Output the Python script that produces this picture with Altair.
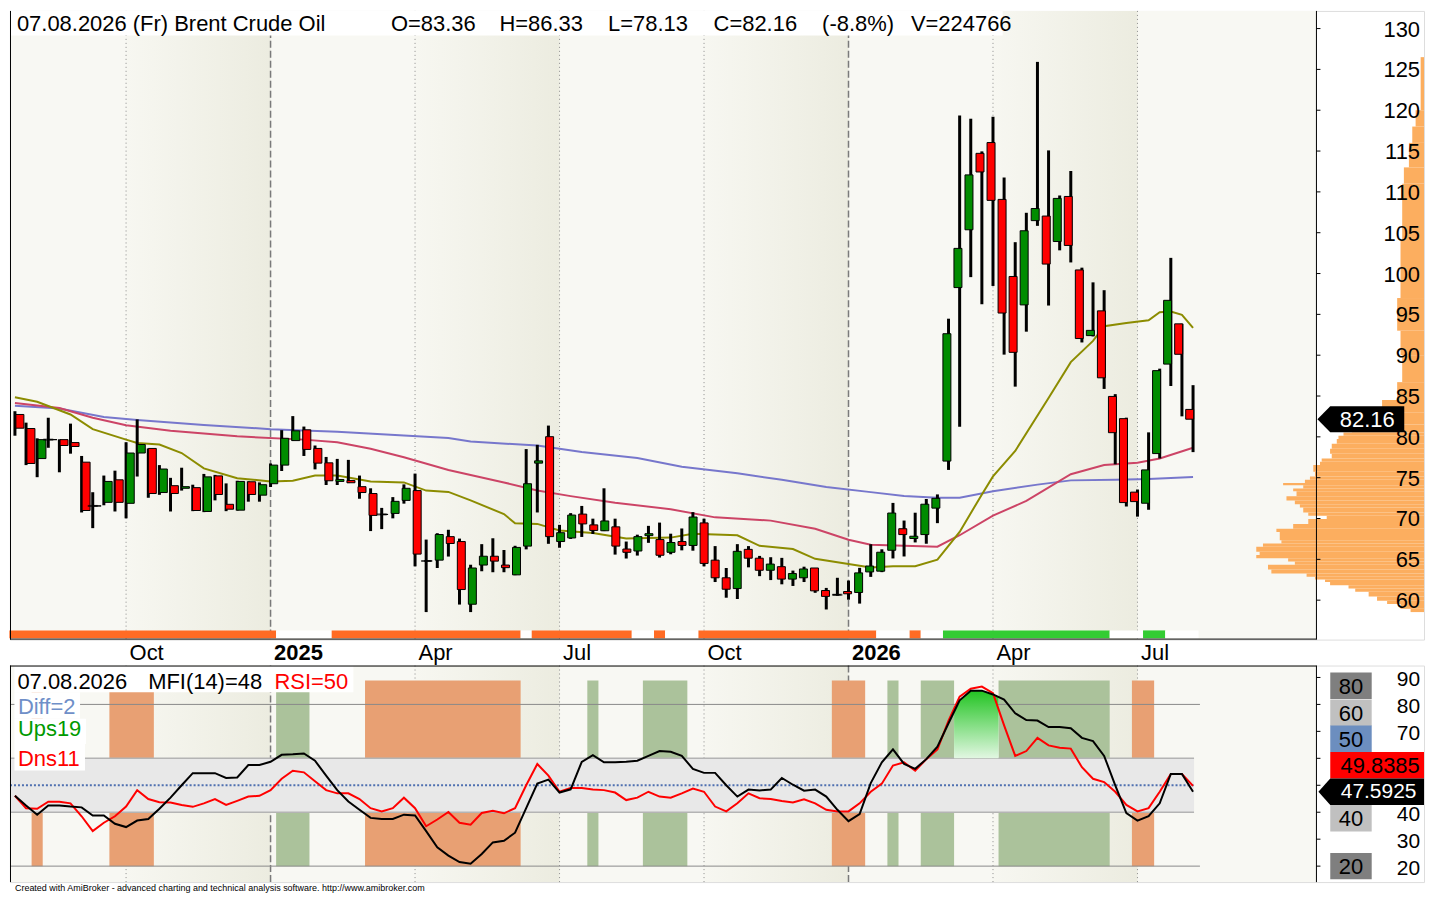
import json
import altair as alt
import pandas as pd

FONT = "Liberation Sans"

# ---------------- data (weekly bars, last = 07.08.2026) ----------------
bar_open = [82.74, 81.02, 77.34, 79.66, 79.66, 79.30, 76.90, 71.54, 71.98, 74.74,
            71.86, 78.02, 78.58, 73.18, 74.02, 73.70, 73.78, 70.86, 75.22, 71.74,
            71.02, 74.50, 72.86, 74.26, 76.54, 79.54, 80.86, 78.58, 76.82, 74.54,
            74.66, 73.90, 73.06, 70.50, 70.62, 72.22, 73.42, 64.80, 64.90, 67.78,
            67.18, 59.50, 64.30, 65.38, 64.30, 63.10, 66.62, 76.78, 80.02, 67.18,
            67.62, 70.54, 69.22, 68.50, 68.98, 66.26, 66.02, 67.90, 67.42, 65.86,
            67.18, 66.70, 69.46, 64.90, 62.74, 61.42, 66.22, 65.14, 63.66, 64.10,
            62.58, 62.74, 63.94, 61.18, 60.66, 61.06, 60.94, 63.46, 63.55, 66.11,
            68.75, 67.55, 68.03, 71.27, 77.03, 98.28, 105.36, 114.72, 116.04, 109.08,
            99.64, 96.16, 106.48, 107.04, 103.92, 109.44, 100.44, 92.40, 95.43, 84.95,
            82.23, 73.23, 71.87, 77.95, 88.91, 93.84, 83.36]
bar_high = [83.14, 81.74, 79.82, 82.34, 79.70, 81.62, 77.66, 73.22, 75.26, 75.86,
            79.34, 82.14, 78.58, 76.54, 74.98, 76.22, 74.14, 75.46, 75.34, 74.30,
            74.62, 74.54, 74.42, 76.74, 80.82, 82.54, 81.26, 78.94, 77.54, 77.30,
            77.18, 75.26, 73.70, 71.30, 72.62, 74.18, 75.50, 67.42, 68.20, 68.62,
            67.54, 64.34, 66.86, 67.58, 66.14, 66.66, 78.50, 79.02, 81.38, 69.22,
            70.66, 71.54, 69.98, 73.70, 69.98, 67.18, 68.02, 69.10, 69.50, 68.14,
            68.78, 70.78, 69.98, 66.62, 63.94, 66.86, 66.62, 65.42, 65.26, 65.18,
            63.62, 64.10, 63.94, 61.50, 62.74, 62.40, 63.96, 66.85, 66.23, 71.91,
            69.75, 70.71, 72.39, 72.95, 94.47, 119.36, 118.96, 114.96, 119.20, 111.76,
            103.84, 107.44, 125.92, 115.08, 109.56, 112.56, 100.72, 98.92, 97.96, 85.23,
            82.35, 73.55, 80.55, 88.35, 101.92, 93.84, 86.33]
bar_low = [80.14, 76.54, 75.06, 78.66, 75.66, 77.94, 70.74, 68.82, 71.62, 70.86,
           70.02, 75.14, 72.54, 72.90, 70.86, 73.42, 70.90, 70.78, 72.22, 70.90,
           70.98, 72.06, 72.06, 73.86, 75.82, 79.54, 77.66, 76.02, 74.10, 74.10,
           74.34, 72.42, 68.46, 68.70, 70.02, 71.82, 64.14, 58.54, 63.94, 65.34,
           59.46, 58.54, 63.54, 63.42, 63.42, 63.06, 66.22, 70.74, 66.90, 66.42,
           67.50, 67.74, 68.10, 68.46, 65.58, 65.10, 65.46, 67.02, 65.22, 65.62,
           66.10, 66.06, 64.14, 62.22, 60.30, 60.14, 64.02, 62.94, 62.46, 61.94,
           61.74, 62.22, 60.90, 58.86, 60.54, 60.06, 59.58, 62.85, 63.43, 65.11,
           65.35, 67.07, 66.91, 69.43, 75.95, 81.23, 99.56, 96.24, 98.48, 90.07,
           86.15, 92.88, 105.84, 96.08, 102.84, 101.36, 91.56, 92.30, 85.87, 76.63,
           71.47, 70.23, 71.07, 77.35, 86.23, 82.51, 78.13]
bar_close = [81.06, 76.74, 79.66, 79.66, 78.94, 78.82, 70.98, 71.54, 74.54, 71.98,
             78.02, 79.06, 73.06, 76.06, 73.06, 73.90, 70.98, 75.10, 72.94, 71.14,
             74.54, 72.94, 74.14, 76.54, 79.82, 80.74, 78.46, 76.78, 74.62, 74.78,
             74.38, 73.18, 70.38, 70.50, 72.10, 73.70, 65.64, 64.80, 68.04, 66.94,
             61.30, 63.94, 65.38, 64.78, 63.98, 66.46, 74.26, 77.06, 67.78, 68.26,
             70.42, 69.34, 68.54, 69.70, 66.62, 65.86, 67.78, 68.14, 65.50, 67.06,
             66.70, 70.18, 64.50, 62.74, 61.34, 65.98, 65.14, 63.66, 64.42, 62.58,
             63.26, 63.82, 61.14, 60.46, 60.66, 60.78, 63.34, 64.18, 65.87, 70.67,
             68.03, 67.83, 71.75, 72.47, 92.63, 103.08, 112.08, 112.44, 108.96, 95.16,
             90.35, 105.24, 107.96, 101.16, 109.20, 103.44, 92.04, 93.04, 87.23, 80.51,
             71.95, 72.07, 75.95, 88.11, 96.72, 90.11, 82.16]

ma_short_idx = [0, 2, 5, 7, 10, 11, 13, 15, 17, 20, 23, 25, 27, 29, 32, 35, 37, 39, 41, 44,
                45, 47, 49, 52, 55, 59, 61, 65, 67, 70, 72, 75, 77, 79, 81, 83, 85, 87, 88, 90,
                93, 95, 97, 98, 100, 102, 103, 104, 105, 106]
ma_short_val = [84.86, 84.30, 82.74, 80.94, 79.66, 79.26, 79.06, 78.02, 76.14, 74.94,
                74.54, 74.62, 75.26, 75.26, 74.54, 74.42, 73.42, 73.26, 72.22, 70.54,
                69.42, 69.34, 68.54, 68.22, 67.54, 67.66, 68.14, 67.94, 66.66, 66.26,
                65.06, 64.42, 64.00, 64.15, 64.15, 64.95, 68.35, 72.95, 75.15, 78.27,
                84.75, 89.15, 91.75, 93.55, 93.95, 94.27, 95.27, 95.35, 94.95, 93.35]
ma_mid_idx = [0, 4, 7, 10, 14, 20, 26, 29, 32, 35, 39, 44, 47, 50, 54, 59, 63, 68, 72, 75,
              77, 83, 85, 88, 91, 95, 98, 101, 103, 106]
ma_mid_val = [84.14, 83.54, 82.34, 81.42, 80.74, 80.06, 79.66, 79.34, 78.54, 77.50,
              75.94, 74.42, 73.42, 72.74, 71.94, 71.14, 70.14, 69.74, 68.74, 67.40,
              66.80, 66.55, 67.95, 70.35, 72.15, 75.43, 76.55, 76.83, 77.35, 78.67]
ma_long_idx = [0, 4, 8, 11, 17, 23, 29, 35, 39, 41, 47, 51, 56, 60, 65, 69, 73, 77, 80, 83,
               85, 88, 92, 95, 99, 102, 106]
ma_long_val = [83.82, 83.46, 82.42, 82.06, 81.46, 80.94, 80.62, 80.18, 79.86, 79.42,
               78.94, 78.14, 77.42, 76.34, 75.54, 74.74, 73.86, 73.23, 72.75, 72.55,
               72.55, 73.35, 74.15, 74.67, 74.75, 74.83, 75.07]

mfi_vals = [46.1, 42.5, 39.1, 42.5, 42.5, 42.1, 41.8, 38.8, 38.8, 35.7,
            34.5, 36.9, 37.5, 41.3, 45.4, 50.0, 54.5, 54.5, 54.5, 52.7,
            52.9, 57.5, 57.5, 58.7, 61.3, 61.5, 61.8, 59.1, 53.6, 48.2,
            44.0, 40.9, 37.9, 37.5, 37.5, 39.1, 38.8, 33.0, 27.0, 23.9,
            21.5, 20.9, 24.5, 28.8, 29.4, 32.4, 41.5, 50.6, 52.1, 47.3,
            48.5, 58.7, 61.2, 58.5, 58.5, 58.7, 59.1, 60.9, 62.7, 62.4,
            60.9, 56.1, 54.6, 54.6, 50.0, 45.8, 48.4, 48.1, 48.4, 52.7,
            50.2, 48.0, 48.4, 45.8, 40.9, 36.7, 39.3, 50.8, 58.5, 63.3,
            57.9, 56.1, 59.7, 64.3, 73.0, 81.5, 85.1, 85.1, 83.7, 81.8,
            76.7, 74.2, 74.0, 71.6, 71.6, 71.2, 67.6, 66.4, 60.9, 50.0,
            39.7, 36.9, 38.5, 43.3, 54.2, 54.2, 47.6]
rsi_vals = [46.1, 41.5, 41.3, 43.9, 43.9, 43.3, 38.5, 33.0, 36.1, 38.5,
            42.1, 48.2, 44.9, 43.7, 43.6, 42.7, 42.0, 43.3, 44.9, 42.7,
            44.2, 45.8, 46.1, 48.2, 52.4, 55.4, 54.8, 51.5, 48.2, 47.0,
            47.0, 44.9, 41.5, 40.3, 41.5, 45.4, 41.5, 34.8, 37.3, 40.1,
            36.1, 35.4, 39.7, 40.5, 39.6, 41.5, 50.0, 57.9, 53.6, 47.6,
            49.0, 49.0, 48.4, 48.2, 47.3, 44.5, 45.4, 47.6, 45.8, 45.4,
            47.0, 48.8, 47.6, 42.1, 40.3, 43.3, 47.0, 45.2, 44.9, 44.2,
            43.6, 44.8, 43.3, 40.9, 40.3, 40.3, 43.3, 47.6, 50.6, 57.3,
            58.5, 55.4, 59.7, 63.3, 74.0, 82.9, 85.8, 86.6, 84.2, 72.2,
            60.9, 62.7, 67.6, 64.8, 63.9, 63.6, 56.7, 52.4, 51.2, 47.6,
            42.7, 40.3, 41.5, 47.6, 54.2, 54.2, 49.8]
mfi_last = "47.5925"
rsi_last = "49.8385"

glow_idx = [84.5, 85, 86, 87, 88, 88.5]
glow_top = [78.5, 81.5, 85.1, 85.1, 83.7, 82.8]

axis_tick_idx = [10, 23, 36, 49, 62, 75, 88, 101]
axis_tick_lbl = ["Oct", "2025", "Apr", "Jul", "Oct", "2026", "Apr", "Jul"]
year_idx = [23, 75]
quarter_idx = [10, 36, 49, 62, 88, 101]
band_from = [10, 36, 62, 88]
band_to = [23, 49, 75, 101]

price_ticks = [60, 65, 70, 75, 80, 85, 90, 95, 100, 105, 110, 115, 120, 125, 130]
osc_ticks = [20, 30, 40, 50, 60, 70, 80, 90]
osc_tick_labels = [20, 30, 40, 70, 80, 90]   # 50 and 60 sit under the value tags

prof_edges = [58.54, 58.94, 59.54, 59.94, 60.46, 61.02, 61.42, 61.82, 62.22, 62.54,
              62.86, 63.26, 63.74, 64.34, 64.74, 65.14, 65.54, 65.94, 66.54, 66.94,
              67.34, 67.74, 68.34, 68.74, 69.34, 69.94, 70.34, 70.74, 71.34, 71.74,
              72.22, 72.74, 73.34, 73.66, 74.06, 74.34, 74.74, 75.14, 75.74, 76.54,
              76.94, 77.34, 77.94, 78.54, 79.14, 79.74, 80.14, 80.54, 81.5, 83.0,
              84.5, 86.7, 90.0, 93.0, 97.0, 104.0, 111.0, 113.0, 116.0, 118.0,
              120.0, 126.5]
prof_vol = [8, 14, 22, 28, 33, 41, 45, 56, 59, 65,
            70, 91, 93, 77, 81, 100, 98, 100, 96, 85,
            86, 86, 88, 78, 69, 58, 69, 72, 74, 77,
            82, 76, 78, 72, 84, 71, 68, 65, 66, 62,
            61, 55, 56, 55, 52, 51, 48, 43, 34, 25,
            16, 13, 14, 16, 14, 13, 12, 9, 7, 5, 2]

strip_from = [0, 24, 29, 46, 47, 56, 58, 59, 62, 78, 81, 82, 84, 99, 102, 104]
strip_to = [23, 28, 45, 46, 55, 57, 58, 61, 77, 80, 81, 83, 98, 101, 103, 106]
strip_kind = ["sell", "none", "sell", "none", "sell", "none", "sell", "none",
              "sell", "none", "sell", "none", "buy", "none", "buy", "none"]

zone_from = [2, 9, 32, 74, 101, 24, 52, 57, 79, 82, 89]
zone_to = [2, 12, 45, 76, 102, 26, 52, 60, 79, 84, 98]
zone_kind = ["low", "low", "low", "low", "low", "high", "high", "high", "high", "high", "high"]

level_lbl = ["80", "60", "50", "40", "20"]
level_pos = [86.9, 76.9, 67.3, 37.8, 20.0]
rsi_tag_pos = 57.45

title_tokens = ["07.08.2026 (Fr) Brent Crude Oil", "O=83.36", "H=86.33", "L=78.13",
                "C=82.16", "(-8.8%)", "V=224766"]

# ---------------- layout ----------------
SX = 1417 / 1433
SY = 886 / 902


def px(x):
    return x * SX


def py(y):
    return y * SY


W = 1417
H1 = 630
GAP = 26
H2 = 217
TOP2 = H1 + GAP


def by(y):
    return py(y) - TOP2


X_DOM = [-0.444, 126.78]
X_RIGHT = 117.1
P_DOM = [55.17, 132.16]
O_DOM = [14.08, 94.42]
AX = px(1324)
LBL_X = px(1429)

xs = alt.Scale(domain=X_DOM, nice=False, zero=False)
ys = alt.Scale(domain=P_DOM, nice=False, zero=False)
osc = alt.Scale(domain=O_DOM, nice=False, zero=False)

BG = "#F8F8F3"
band_grad = alt.LinearGradient(gradient="linear",
                               stops=[alt.GradientStop(color="#F7F7F1", offset=0),
                                      alt.GradientStop(color="#ECECE0", offset=1)],
                               x1=0, x2=1, y1=0, y2=0)
glow_grad = alt.LinearGradient(gradient="linear",
                               stops=[alt.GradientStop(color="#22C422", offset=0),
                                      alt.GradientStop(color="#E2F7E2", offset=1)],
                               x1=0, x2=0, y1=0, y2=1)

one = pd.DataFrame({"k": [0]})


def text_layer(txt, x, y, size=22, color="black", align="left", baseline="alphabetic", weight="normal"):
    return alt.Chart(pd.DataFrame({"t": [txt]})).mark_text(
        align=align, baseline=baseline, fontSize=size, font=FONT, color=color, fontWeight=weight
    ).encode(x=alt.value(x), y=alt.value(y), text="t:N")


def box_layer(x1, x2, y1, y2, color="white"):
    return alt.Chart(one).mark_rect(color=color).encode(
        x=alt.value(x1), x2=alt.value(x2), y=alt.value(y1), y2=alt.value(y2))


def line_seg(x1, x2, y1, y2, color="black", width=1):
    return alt.Chart(one).mark_rule(color=color, strokeWidth=width).encode(
        x=alt.value(x1), x2=alt.value(x2), y=alt.value(y1), y2=alt.value(y2))


def background_layers(h, x_axis=None):
    bg = alt.Chart(pd.DataFrame({"a": [X_DOM[0]], "b": [X_RIGHT]})).mark_rect(color=BG).encode(
        x=alt.X("a:Q", scale=xs, axis=x_axis), x2="b:Q", y=alt.value(0), y2=alt.value(h))
    bands = alt.Chart(pd.DataFrame({"a": band_from, "b": band_to})).mark_rect(color=band_grad).encode(
        x=alt.X("a:Q", scale=xs, axis=None), x2="b:Q", y=alt.value(0), y2=alt.value(h))
    ql = alt.Chart(pd.DataFrame({"i": quarter_idx})).mark_rule(
        color="#8C8C8C", strokeWidth=1, strokeDash=[1, 3]).encode(
        x=alt.X("i:Q", scale=xs, axis=None), y=alt.value(0), y2=alt.value(h))
    yl = alt.Chart(pd.DataFrame({"i": year_idx})).mark_rule(
        color="#7A7A7A", strokeWidth=1.5, strokeDash=[7, 3]).encode(
        x=alt.X("i:Q", scale=xs, axis=None), y=alt.value(0), y2=alt.value(h))
    return bg, bands, ql, yl


def value_axis(ticks, labels, scale, size=22, dy=1):
    marks = alt.Chart(pd.DataFrame({"v": ticks})).mark_rule(color="black", strokeWidth=1).encode(
        x=alt.value(AX), x2=alt.value(AX + 4), y=alt.Y("v:Q", scale=scale, axis=None))
    texts = alt.Chart(pd.DataFrame({"v": labels})).mark_text(
        align="right", baseline="middle", fontSize=size, font=FONT, color="black", dy=dy).encode(
        x=alt.value(LBL_X), y=alt.Y("v:Q", scale=scale, axis=None), text="v:Q")
    return marks, texts


# ---------------- top pane ----------------
label_expr = f"{json.dumps(axis_tick_lbl)}[indexof({json.dumps(axis_tick_idx)}, datum.value)]"
x_axis = alt.Axis(orient="bottom", values=axis_tick_idx, labelExpr=label_expr, domain=False,
                  ticks=False, grid=False, title=None, labelAlign="left", labelOffset=3,
                  labelPadding=3, labelFontSize=22, labelFont=FONT, labelColor="black",
                  labelOverlap=False, labelFlush=False,
                  labelFontWeight={"condition": {"test": f"indexof({json.dumps(year_idx)}, datum.value) >= 0",
                                                 "value": "bold"}, "value": "normal"})

bg1, bands1, ql1, yl1 = background_layers(H1, x_axis)

prof_df = pd.DataFrame({"lo": prof_edges[:-1], "hi": prof_edges[1:], "v": prof_vol, "z": 0})
prof_scale = alt.Scale(domain=[0, 843], reverse=True, nice=False, zero=False)
profile = alt.Chart(prof_df).mark_rect(color="#FCAE5F").encode(
    x=alt.X("v:Q", scale=prof_scale, axis=None), x2="z:Q",
    y=alt.Y("lo:Q", scale=ys, axis=None), y2="hi:Q")


def ma_layer(idx, val, color):
    return alt.Chart(pd.DataFrame({"i": idx, "v": val})).mark_line(color=color, strokeWidth=2).encode(
        x=alt.X("i:Q", scale=xs, axis=None), y=alt.Y("v:Q", scale=ys, axis=None))


ma1 = ma_layer(ma_long_idx, ma_long_val, "#7777CC")
ma2 = ma_layer(ma_mid_idx, ma_mid_val, "#CC4466")
ma3 = ma_layer(ma_short_idx, ma_short_val, "#8C8C00")

cdf = pd.DataFrame({"i": list(range(len(bar_open))), "o": bar_open, "h": bar_high,
                    "l": bar_low, "c": bar_close})
cdf["dir"] = ["up" if c > o else "down" for o, c in zip(bar_open, bar_close)]
wicks = alt.Chart(cdf).mark_rule(color="black", strokeWidth=3).encode(
    x=alt.X("i:Q", scale=xs, axis=None), y=alt.Y("l:Q", scale=ys, axis=None), y2="h:Q")
bodies = alt.Chart(cdf).mark_bar(width=8, stroke="black", strokeWidth=1).encode(
    x=alt.X("i:Q", scale=xs, axis=None), y=alt.Y("o:Q", scale=ys, axis=None), y2="c:Q",
    color=alt.Color("dir:N", scale=alt.Scale(domain=["up", "down"], range=["#008C00", "#FF0000"]),
                    legend=None))
doji = alt.Chart(cdf[cdf.o == cdf.c]).mark_tick(orient="horizontal", color="black", size=10,
                                                thickness=2).encode(
    x=alt.X("i:Q", scale=xs, axis=None), y=alt.Y("o:Q", scale=ys, axis=None))

strip_df = pd.DataFrame({"a": [s - 0.5 for s in strip_from], "b": [e + 0.5 for e in strip_to],
                         "k": strip_kind})
strip = alt.Chart(strip_df).mark_rect().encode(
    x=alt.X("a:Q", scale=xs, axis=None), x2="b:Q", y=alt.value(py(632)), y2=alt.value(py(640)),
    color=alt.Color("k:N", scale=alt.Scale(domain=["sell", "buy", "none"],
                                           range=["#FF6B24", "#33CC33", "#FFFFFF"]), legend=None))

title_box = box_layer(0, px(1006), 0, py(25))
title_x = [7, 386, 496, 606, 713, 823, 913]
title_texts = [text_layer(t, px(x), py(20)) for t, x in zip(title_tokens, title_x)]

borders1 = [line_seg(0.5, 0.5, 0, H1), line_seg(AX, AX, 0, H1), line_seg(0, AX, H1 - 0.5, H1 - 0.5)]
ptick_marks, ptick_labels = value_axis(price_ticks, price_ticks, ys)

last_df = pd.DataFrame({"c": [bar_close[-1]]})
TAG_TOP = "M-1,0L-0.7045,-0.3014L1,-0.3014L1,0.3014L-0.7045,0.3014Z"
tag = alt.Chart(last_df).mark_point(shape=TAG_TOP, size=px(88) ** 2, filled=True, color="black",
                                    opacity=1, strokeWidth=0).encode(
    x=alt.value(px(1369)), y=alt.Y("c:Q", scale=ys, axis=None))
tag_text = alt.Chart(last_df).mark_text(color="white", fontSize=22, font=FONT, align="center",
                                        baseline="middle", dy=1).encode(
    x=alt.value(px(1375.5)), y=alt.Y("c:Q", scale=ys, axis=None), text=alt.Text("c:Q", format=".2f"))

top = alt.layer(bg1, bands1, ql1, yl1, profile, ma1, ma2, ma3, wicks, bodies, doji, strip,
                title_box, *title_texts, *borders1, ptick_marks, ptick_labels, tag, tag_text).resolve_scale(
    x="independent", color="independent").properties(width=W, height=H1)

# ---------------- bottom pane ----------------
bg2, bands2, ql2, yl2 = background_layers(H2)

zone_df = pd.DataFrame({"a": [s - 0.5 for s in zone_from], "b": [e + 0.5 for e in zone_to],
                        "k": zone_kind, "lo": 20.0, "hi": 88.9})
zones = alt.Chart(zone_df).mark_rect().encode(
    x=alt.X("a:Q", scale=xs, axis=None), x2="b:Q", y=alt.Y("lo:Q", scale=osc, axis=None), y2="hi:Q",
    color=alt.Color("k:N", scale=alt.Scale(domain=["low", "high"], range=["#E8A073", "#ABC29B"]),
                    legend=None))

BAND_END = 106.09
LINE_END = 106.62
mid_band = alt.Chart(pd.DataFrame({"a": [X_DOM[0]], "b": [BAND_END], "lo": [40], "hi": [60]})).mark_rect(
    color="#E8E8E8").encode(x=alt.X("a:Q", scale=xs, axis=None), x2="b:Q",
                            y=alt.Y("lo:Q", scale=osc, axis=None), y2="hi:Q")
band_edges = alt.Chart(pd.DataFrame({"a": [X_DOM[0]] * 2, "b": [BAND_END] * 2, "v": [40, 60]})).mark_rule(
    color="#B4B4B4", strokeWidth=1.5).encode(x=alt.X("a:Q", scale=xs, axis=None), x2="b:Q",
                                             y=alt.Y("v:Q", scale=osc, axis=None))
level_lines = alt.Chart(pd.DataFrame({"a": [X_DOM[0]] * 2, "b": [LINE_END] * 2, "v": [20, 80]})).mark_rule(
    color="#8A8A8A", strokeWidth=1).encode(x=alt.X("a:Q", scale=xs, axis=None), x2="b:Q",
                                           y=alt.Y("v:Q", scale=osc, axis=None))
mid_line = alt.Chart(pd.DataFrame({"a": [X_DOM[0]], "b": [BAND_END], "v": [50]})).mark_rule(
    color="#4F70B0", strokeWidth=2, strokeDash=[2, 2]).encode(
    x=alt.X("a:Q", scale=xs, axis=None), x2="b:Q", y=alt.Y("v:Q", scale=osc, axis=None))

glow = alt.Chart(pd.DataFrame({"i": glow_idx, "v": glow_top, "b": 60})).mark_area(color=glow_grad).encode(
    x=alt.X("i:Q", scale=xs, axis=None), y=alt.Y("v:Q", scale=osc, axis=None), y2="b:Q")

odf = pd.DataFrame({"i": list(range(len(mfi_vals))), "m": mfi_vals, "r": rsi_vals})
rsi_line = alt.Chart(odf).mark_line(color="#FF0000", strokeWidth=2).encode(
    x=alt.X("i:Q", scale=xs, axis=None), y=alt.Y("r:Q", scale=osc, axis=None))
mfi_line = alt.Chart(odf).mark_line(color="black", strokeWidth=2).encode(
    x=alt.X("i:Q", scale=xs, axis=None), y=alt.Y("m:Q", scale=osc, axis=None))

label_boxes = [box_layer(px(4.5), px(348), by(668), by(695)),
               box_layer(px(4.5), px(71), by(695), by(722)),
               box_layer(px(4.5), px(77), by(722), by(748)),
               box_layer(px(4.5), px(76), by(748), by(775))]
label_texts = [text_layer("07.08.2026", px(7.5), by(692)),
               text_layer("MFI(14)=48", px(140), by(692)),
               text_layer("RSI=50", px(268), by(692), color="#FF0000"),
               text_layer("Diff=2", px(8), by(717), color="#6F8FC8"),
               text_layer("Ups19", px(8), by(740), color="#009A00"),
               text_layer("Dns11", px(8), by(770), color="#FF0000")]

otick_marks, otick_labels = value_axis(osc_ticks, osc_tick_labels, osc, size=21, dy=3)

BOX = "M-1,-0.639L1,-0.639L1,0.639L-1,0.639Z"
RED_BOX = "M-1,-0.282L1,-0.282L1,0.282L-1,0.282Z"
TAG_LOW = "M-1,0L-0.7757,-0.2507L1,-0.2507L1,0.2507L-0.7757,0.2507Z"

lvl_df = pd.DataFrame({"t": level_lbl, "p": level_pos})
lvl_boxes = alt.Chart(lvl_df).mark_point(shape=BOX, size=px(42) ** 2, filled=True, opacity=1,
                                         strokeWidth=0).encode(
    x=alt.value(px(1359)), y=alt.Y("p:Q", scale=osc, axis=None),
    color=alt.Color("t:N", scale=alt.Scale(domain=["80", "60", "50", "40", "20"],
                                           range=["#7F7F7F", "#C0C0C0", "#6C8EBF", "#C0C0C0", "#7F7F7F"]),
                    legend=None))
lvl_text = alt.Chart(lvl_df).mark_text(fontSize=22, font=FONT, color="black", align="center",
                                       baseline="middle", dy=1).encode(
    x=alt.value(px(1359)), y=alt.Y("p:Q", scale=osc, axis=None), text="t:N")

rsi_df = pd.DataFrame({"t": [rsi_last], "p": [rsi_tag_pos]})
rsi_box = alt.Chart(rsi_df).mark_point(shape=RED_BOX, size=px(95) ** 2, filled=True, opacity=1,
                                       strokeWidth=0, color="#FF0000").encode(
    x=alt.value(px(1385.5)), y=alt.Y("p:Q", scale=osc, axis=None))
rsi_text = alt.Chart(rsi_df).mark_text(fontSize=22, font=FONT, color="black", align="center",
                                       baseline="middle", dy=1).encode(
    x=alt.value(px(1388.5)), y=alt.Y("p:Q", scale=osc, axis=None), text="t:N")

mfi_df = pd.DataFrame({"t": [mfi_last], "p": [float(mfi_last)]})
mfi_box = alt.Chart(mfi_df).mark_point(shape=TAG_LOW, size=px(107) ** 2, filled=True, opacity=1,
                                       strokeWidth=0, color="black").encode(
    x=alt.value(px(1379.5)), y=alt.Y("p:Q", scale=osc, axis=None))
mfi_text = alt.Chart(mfi_df).mark_text(fontSize=21, font=FONT, color="white", align="center",
                                       baseline="middle", dy=0).encode(
    x=alt.value(px(1387)), y=alt.Y("p:Q", scale=osc, axis=None), text="t:N")

borders2 = [line_seg(0, AX, 0.5, 0.5), line_seg(0.5, 0.5, 0, H2), line_seg(AX, AX, 0, H2)]

footer = text_layer("Created with AmiBroker - advanced charting and technical analysis software. "
                    "http://www.amibroker.com", px(5), by(898), size=9)

bottom = alt.layer(bg2, bands2, ql2, yl2, zones, mid_band, band_edges, level_lines, mid_line,
                   glow, rsi_line, mfi_line, *label_boxes, *label_texts,
                   otick_marks, otick_labels,
                   lvl_boxes, lvl_text, rsi_box, rsi_text, mfi_box, mfi_text,
                   *borders2, footer).resolve_scale(color="independent").properties(width=W, height=H2)

chart = alt.vconcat(top, bottom, spacing=GAP, bounds="flush").properties(
    padding=0, background="white").configure_view(strokeWidth=0).configure(font=FONT)

chart.save("out.html", embed_options={"renderer": "svg", "actions": False})
